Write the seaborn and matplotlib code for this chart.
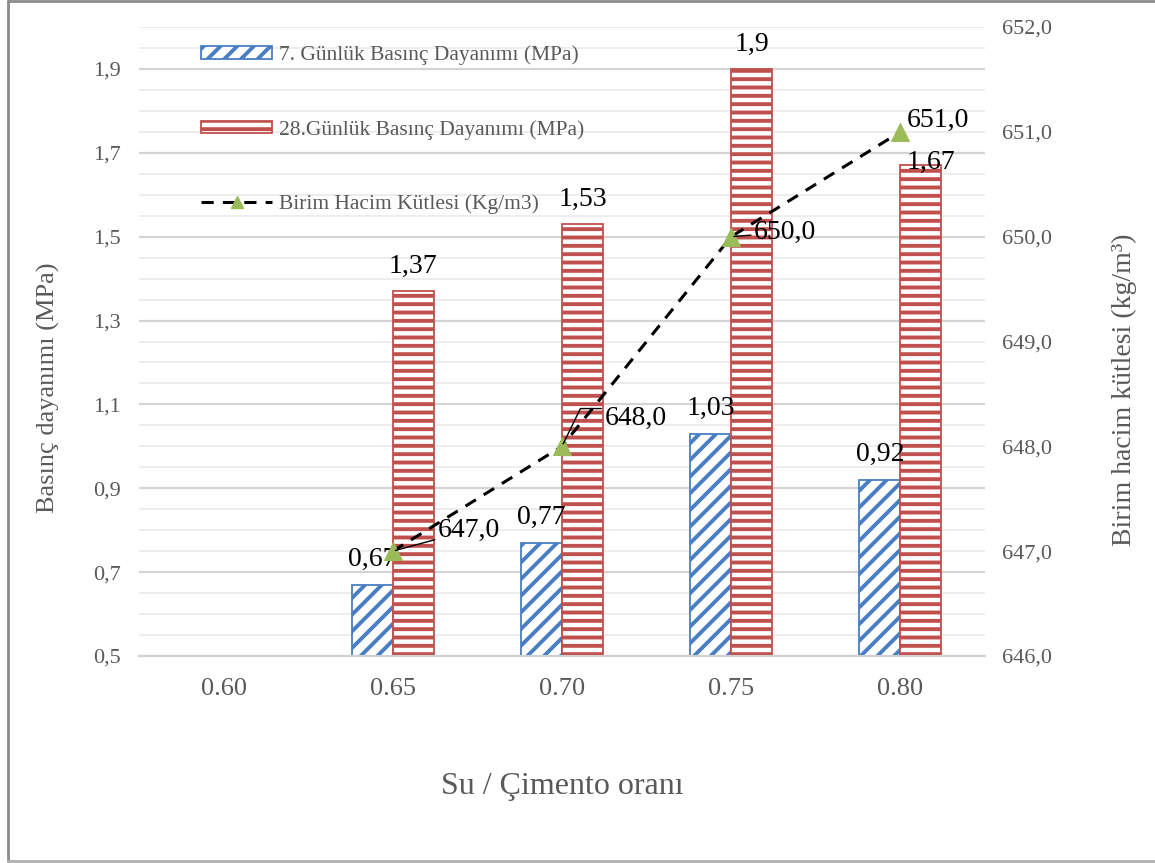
import numpy as np
import pandas as pd
import matplotlib
matplotlib.use("Agg")
from matplotlib import pyplot as plt
from matplotlib.lines import Line2D
from matplotlib.patches import Patch
import seaborn as sns

# data
oran = ["0.60", "0.65", "0.70", "0.75", "0.80"]
gun7 = [np.nan, 0.67, 0.77, 1.03, 0.92]
gun28 = [np.nan, 1.37, 1.53, 1.9, 1.67]
birim_hacim = [np.nan, 647.0, 648.0, 650.0, 651.0]

lbl7 = "7. Günlük Basınç Dayanımı (MPa)"
lbl28 = "28.Günlük Basınç Dayanımı (MPa)"
lbl_bh = "Birim Hacim Kütlesi (Kg/m3)"

mavi = "#4A7EC4"
kirmizi = "#C0504D"
yesil = "#9BBB59"
gri = "#595959"

df = pd.DataFrame({
    "oran": oran * 2,
    "seri": [lbl7] * len(oran) + [lbl28] * len(oran),
    "deger": gun7 + gun28,
})

sns.set_theme(style="white")
plt.rcParams["font.family"] = ["Liberation Serif", "DejaVu Serif"]
plt.rcParams["hatch.linewidth"] = 2.8

fig = plt.figure(figsize=(11.55, 8.63), dpi=100)
ax = fig.add_axes([139 / 1155, 1 - 656 / 863, 846 / 1155, 629 / 863])
ax2 = ax.twinx()

sns.barplot(data=df, x="oran", y="deger", hue="seri", order=oran,
            hue_order=[lbl7, lbl28], palette=[mavi, kirmizi], width=0.485,
            saturation=1, errorbar=None, legend=False, ax=ax)

desen = ["//", "--"]
renk = [mavi, kirmizi]
for cont, h, c in zip(ax.containers, desen, renk):
    for p in cont.patches:
        p.set_facecolor("white")
        p.set_edgecolor(c)
        p.set_hatch(h)
        p.set_linewidth(1.3)

def virgul(v, fmt="{:g}"):
    return fmt.format(v).replace(".", ",")

etiketler = []
for cont, vals in zip(ax.containers, [gun7, gun28]):
    vv = [v for v in vals if not np.isnan(v)]
    etiketler.append(ax.bar_label(cont, labels=[virgul(v) for v in vv],
                                  padding=9, fontsize=20, color="black"))
# 1,67 sits to the right of its bar
son = etiketler[1][-1]
son.xyann = (7, -7)

ax.set_ylim(0.5, 2.0)
ax.set_yticks(np.arange(0.5, 1.95, 0.2))
ax.set_yticks(np.arange(0.5, 2.01, 0.05), minor=True)
ax.set_yticklabels([virgul(t, "{:.1f}") for t in np.arange(0.5, 1.95, 0.2)])
ax.grid(which="major", axis="y", color="#D4D4D4", lw=1.6)
ax.grid(which="minor", axis="y", color="#ECECEC", lw=1.3)
ax.set_axisbelow(True)
ax.tick_params(axis="y", which="both", length=0, labelsize=16, labelcolor=gri, pad=13)
ax.tick_params(axis="x", length=0, labelsize=19, labelcolor=gri, pad=16)
for s in ["left", "right", "top"]:
    ax.spines[s].set_visible(False)
ax.spines["bottom"].set_color("#D0D0D0")
ax.spines["bottom"].set_linewidth(1.5)

ax.set_xlabel("Su / Çimento oranı", fontsize=23, color=gri, labelpad=52)
ax.set_ylabel("Basınç dayanımı (MPa)", fontsize=19, color=gri)
ax.yaxis.set_label_coords(-0.0934, 0.426)

# second axis: unit weight
sns.lineplot(x=oran, y=birim_hacim, ax=ax2, color="black", lw=2.2,
             linestyle=(0, (4, 3)), marker="^", markersize=13,
             markerfacecolor=yesil, markeredgecolor=yesil)
ax2.set_ylim(646, 652)
ax2.set_yticks(np.arange(646, 652.5, 1))
ax2.set_yticklabels([virgul(t, "{:.1f}") for t in np.arange(646, 652.5, 1)])
ax2.tick_params(axis="y", length=0, labelsize=16, labelcolor=gri, pad=12)
for s in ax2.spines.values():
    s.set_visible(False)
ax2.grid(False)
ax2.set_ylabel("Birim hacim kütlesi (kg/m³)", fontsize=20, color=gri)
ax2.yaxis.set_label_coords(1.150, 0.423)

ax.set_xlim(-0.5, len(oran) - 0.5)

ofset = [None, (55, 15), (53, 20), (39, 3), (27, 8)]
cizgi = [None,
         dict(arrowstyle="-", color="black", lw=1, shrinkA=0, shrinkB=2),
         dict(arrowstyle="-", color="black", lw=1, shrinkA=0, shrinkB=2,
              relpos=(0, 0.9), connectionstyle="angle,angleA=0,angleB=64,rad=0"),
         dict(arrowstyle="-", color="black", lw=1, shrinkA=0, shrinkB=2),
         None]
for i, v in enumerate(birim_hacim):
    if np.isnan(v):
        continue
    ax2.annotate(virgul(v, "{:.1f}"), xy=(i, v), xytext=ofset[i],
                 textcoords="offset points", ha="center", va="center",
                 fontsize=20, color="black", arrowprops=cizgi[i])

handles = [
    Patch(facecolor="white", edgecolor=mavi, hatch="//", lw=1.3),
    Patch(facecolor="white", edgecolor=kirmizi, hatch="--", lw=1.3),
    Line2D([], [], color="black", lw=2.2, linestyle=(0, (4, 3)), marker="^",
           markersize=9, markerfacecolor=yesil, markeredgecolor=yesil),
]
leg = fig.legend(handles, [lbl7, lbl28, lbl_bh], loc="upper left",
                 bbox_to_anchor=(182 / 1155, 1 - 26 / 863), frameon=False,
                 fontsize=15.5, handlelength=3.3, handleheight=0.5,
                 handletextpad=0.3, labelspacing=2.55)
for t in leg.get_texts():
    t.set_color(gri)

# outer frame (left, top, bottom)
fc = "#8C8C8C"
fig.add_artist(Line2D([7.5 / 1155] * 2, [0.002, 0.999], transform=fig.transFigure, color=fc, lw=2))
fig.add_artist(Line2D([7.5 / 1155, 1], [0.999, 0.999], transform=fig.transFigure, color=fc, lw=2))
fig.add_artist(Line2D([7.5 / 1155, 1], [0.002, 0.002], transform=fig.transFigure, color="#B0B0B0", lw=2))

fig.savefig("out.png", dpi=100)
